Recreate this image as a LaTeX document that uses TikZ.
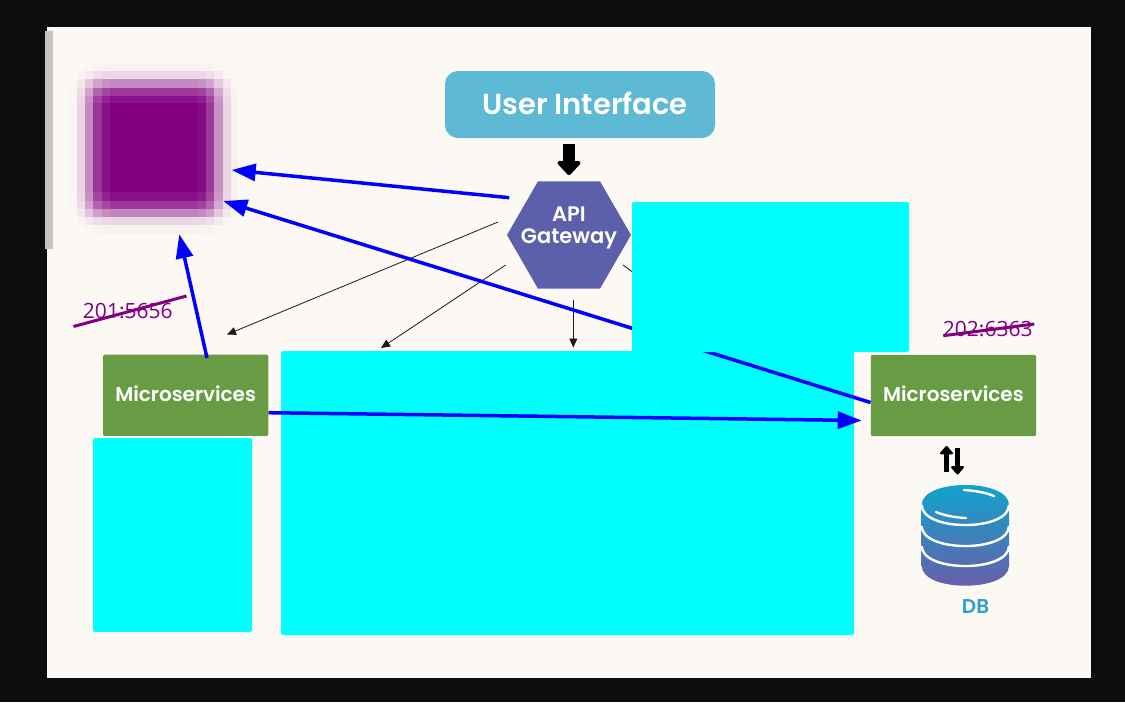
\documentclass[tikz,border=0pt]{standalone}
\usepackage{fontspec}
\setmainfont{Poppins}
\newfontfamily\popm{Poppins SemiBold}
\newfontfamily\opens{Open Sans}
\usetikzlibrary{shapes.geometric,arrows.meta}
\definecolor{frameblack}{HTML}{0D0D0D}
\definecolor{canvas}{HTML}{FCF9F5}
\definecolor{barg}{HTML}{C4C4C0}
\definecolor{uiblue}{HTML}{5DB9D4}
\definecolor{hexblue}{HTML}{5C60AB}
\definecolor{msgreen}{HTML}{689C44}
\definecolor{maskcyan}{HTML}{00FFFF}
\definecolor{pure}{HTML}{0000FF}
\definecolor{plum}{HTML}{800080}
\definecolor{dbtop}{HTML}{0AA8CE}
\definecolor{dbbot}{HTML}{6F5AA8}
\definecolor{dbtext}{HTML}{2E9FD0}
\definecolor{thin}{HTML}{1A1A1A}
\tikzset{
  msbox/.style={fill=msgreen,rounded corners=2pt,minimum width=165.3pt,minimum height=81.3pt,inner sep=0pt,text=white,font=\popm\fontsize{20}{24}\selectfont},
  mask/.style={fill=maskcyan,rounded corners=2pt,inner sep=0pt},
  thinarrow/.style={draw=thin,line width=0.8pt,-{Triangle[length=9pt,width=8pt]}},
  bluearrow/.style={draw=pure,line width=3.5pt,-{Triangle[length=24pt,width=17pt]}},
  heavyarrow/.style={draw=black,line width=5.5pt,-{Triangle[round,length=9pt,width=15pt]}},
  strike/.style={draw=plum,line width=3pt},
  portlabel/.style={text=plum,inner sep=0pt,font=\opens\fontsize{21}{24}\selectfont},
}
\begin{document}
\begin{tikzpicture}[x=1pt,y=-1pt]
\useasboundingbox (0,0) rectangle (1125,702);
\fill[frameblack] (0,0) rectangle (1125,702);
\fill[canvas] (47,27) rectangle (1091,678);
\fill[barg] (45,31) rectangle (53,249);
% blurred square: a mosaic, each cell the product of a column and a row strength
\foreach \xa/\xb/\ax in {68.3/76.7/.02,76.7/85/.15,85/93.3/.45,93.3/101.7/.78,101.7/110/.93,110/198.3/1,198.3/206/.95,206/214/.77,214/222.7/.42,222.7/231/.15,231/238.3/.03,238.3/246.7/.01}
  \foreach \ya/\yb/\ay in {55/63.3/.01,63.3/71/.03,71/79.3/.14,79.3/87.7/.45,87.7/96/.77,96/103.3/.93,103.3/191.7/1,191.7/201/.93,201/209/.77,209/216.7/.47,216.7/225/.14,225/233.3/.03}{
    \pgfmathsetmacro\cellmix{100*\ax*\ay}
    \fill[plum!\cellmix!canvas] (\xa,\ya) rectangle (\xb+0.4,\yb+0.4);
  }
\coordinate (blurA) at (231.7,170);
\coordinate (blurB) at (223.3,201);
\coordinate (blurC) at (179.3,234.3);
% nodes
\node[fill=uiblue,rounded corners=13pt,minimum width=270pt,minimum height=67pt,inner sep=0pt,text=white,font=\popm\fontsize{29}{32}\selectfont] (ui) at (580,104.5) {\hspace*{10pt}\raisebox{3pt}{User Interface}};
\node[regular polygon,regular polygon sides=6,fill=hexblue,minimum size=124pt,inner sep=0pt] (gw) at (569,235) {};
\node[text=white,align=center,inner sep=0pt,font=\popm\fontsize{21}{21.5}\selectfont] (gwt) at (569,228) {API\\Gateway};
\node[mask,minimum width=573pt,minimum height=284pt] (bigmask) at (567.5,493) {};
\coordinate (fA) at (498,222);
\coordinate (fB) at (505.6,265);
\coordinate (fC) at (573.3,300);
\coordinate (fD) at (623,265);
\coordinate (tA) at (227,334.5);
\coordinate (tB) at (381,348);
\coordinate (tC) at (573.3,347.5);
\coordinate (tD) at (735,347);
\draw[thinarrow] (fA) -- (tA);
\draw[thinarrow] (fB) -- (tB);
\draw[thinarrow] (fC) -- (tC);
\draw[thinarrow] (fD) -- (tD);
\draw[heavyarrow,line width=12pt,-{Triangle[round,length=15pt,width=27pt]},shorten <=6pt,shorten >=6pt] (ui.south -| 569,0) -- (gw.north);
\node[msbox] (ms1) at (185.65,395.3) {\raisebox{4pt}{Microservices}};
\node[msbox] (ms2) at (953.4,395.5) {\raisebox{4pt}{Microservices}};
% blue connectors
\coordinate (fBlueA) at (509.3,197.7);
\coordinate (fBlueC) at (207,358);
\draw[bluearrow] (fBlueA) -- (blurA);
\draw[bluearrow] (ms2.west |- 0,402.5) -- (blurB);
\draw[bluearrow] (fBlueC) -- (blurC);
\coordinate (ms2in) at (861.7,420.5);
\draw[bluearrow] (ms1.east |- 0,412.7) -- (ms2in);
% masks over
\node[mask,minimum width=277pt,minimum height=150pt] (topmask) at (770.5,277) {};
\node[mask,minimum width=159pt,minimum height=194pt] (leftmask) at (172.5,535) {};
% port labels
\node[portlabel] (p1) at (127.8,311) {201:5656};
\coordinate (s1a) at (73.5,326.5);
\coordinate (s1b) at (186.5,296);
\draw[strike] (s1a) -- (s1b);
\node[portlabel] (p2) at (987.7,329) {202:6363};
\coordinate (s2a) at (943.3,335.7);
\coordinate (s2b) at (1034.3,324);
\draw[strike] (s2a) -- (s2b);
% db
\shade[top color=dbtop,bottom color=dbbot] (921.7,505) .. controls (921.7,478.3) and (1009,478.3) .. (1009,505) -- (1009,565.7) .. controls (1009,592.4) and (921.7,592.4) .. (921.7,565.7) -- cycle;
\foreach \c in {505,526,546}
  \draw[white,line width=2.4pt] (921.7,\c) .. controls (921.7,\c+26.7) and (1009,\c+26.7) .. (1009,\c);
\draw[white,line width=2.4pt,line cap=round] (964,490) .. controls (972,490.5) and (985,492) .. (994,496);
\draw[white,line width=2.4pt,line cap=round] (936,512) .. controls (944,515.5) and (955,517.5) .. (966,518);
\node[text=dbtext,inner sep=0pt,font=\popm\fontsize{20}{22}\selectfont] (db) at (975.5,607) {DB};
\coordinate (upA) at (946.5,472);
\coordinate (upB) at (946.5,446);
\coordinate (dnA) at (957.5,448);
\coordinate (dnB) at (957.5,474.5);
\draw[heavyarrow] (upA) -- (upB);
\draw[heavyarrow] (dnA) -- (dnB);
\end{tikzpicture}
\end{document}
